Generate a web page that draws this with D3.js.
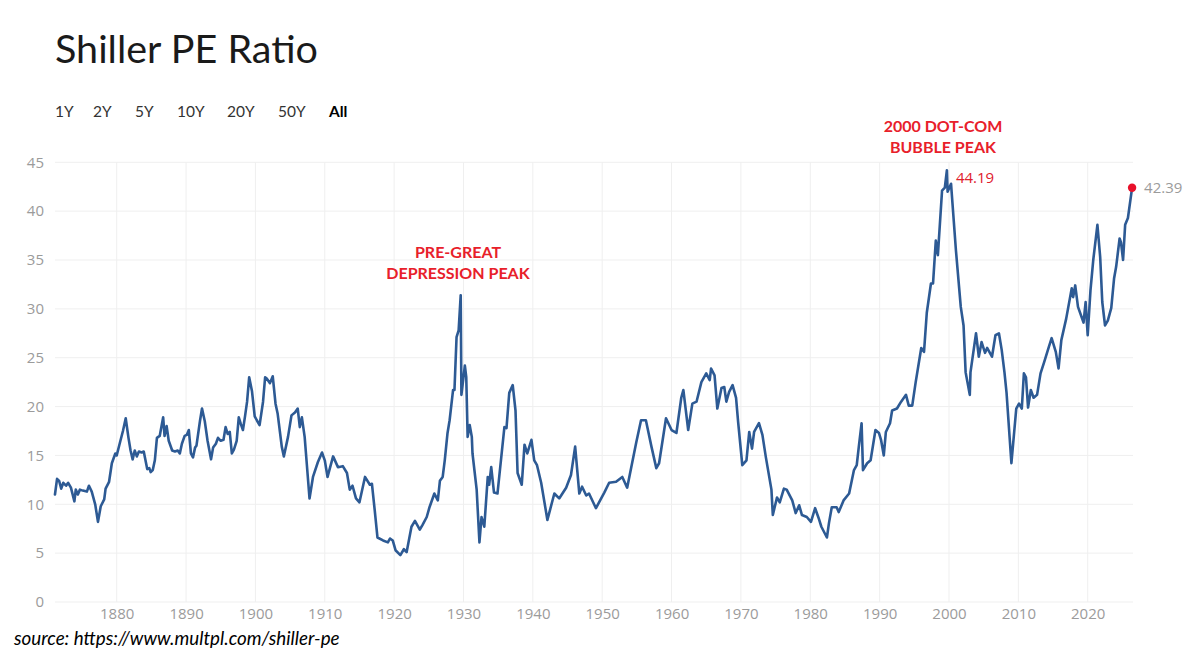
<!DOCTYPE html>
<html><head><meta charset="utf-8">
<script src="https://cdn.jsdelivr.net/npm/d3@7"></script>
<style>body{margin:0;background:#fff;} svg{display:block;}</style>
</head><body>
<svg id="chart" width="1200" height="654"></svg>
<script>
// ---- data ----
const years = [
1871.1,1871.4,1871.7,1872.0,1872.3,1872.7,1873.0,1873.4,1873.9,1874.1,1874.4,1874.7,1875.1,1875.7,1876.0,1876.4,1876.9,1877.3,1877.7,1878.2,1878.4,1878.9,1879.3,1879.8,
1880.0,1880.5,1880.9,1881.3,1881.7,1882.0,1882.3,1882.6,1882.9,1883.2,1883.6,1883.9,1884.4,1884.7,1884.9,1885.2,1885.5,1885.8,1886.2,1886.7,1886.9,1887.2,1887.5,1888.0,1888.4,1888.8,1889.1,1889.4,1889.8,
1890.1,1890.4,1890.7,1891.0,1891.3,1891.5,1892.0,1892.3,1892.7,1893.1,1893.6,1893.9,1894.3,1894.6,1895.0,1895.4,1895.7,1896.0,1896.3,1896.6,1896.9,1897.3,1897.6,1897.9,1898.2,1898.5,1898.8,1899.1,1899.5,1899.9,
1900.2,1900.6,1901.1,1901.4,1901.6,1902.1,1902.5,1902.9,1903.2,1903.8,1904.1,1904.7,1905.2,1905.7,1906.1,1906.4,1906.7,1907.1,1907.4,1907.8,1908.3,1909.0,1909.6,
1910.0,1910.4,1911.2,1911.9,1912.6,1913.2,1913.6,1914.0,1914.5,1915.0,1915.8,1916.5,1916.8,1917.2,1917.6,1918.4,1919.1,1919.4,1919.8,
1920.2,1920.9,1921.4,1921.8,1922.5,1923.0,1923.7,1924.1,1924.7,1925.1,1925.8,1926.3,1926.6,1927.0,1927.3,1927.7,1928.0,1928.5,1928.7,1929.0,1929.3,1929.6,1929.7,
1930.2,1930.4,1930.6,1930.9,1931.2,1931.3,1931.9,1932.3,1932.6,1933.0,1933.5,1933.7,1934.0,1934.4,1934.9,1935.9,1936.2,1936.6,1937.1,1937.5,1937.8,1938.4,1938.8,1939.2,1939.8,
1940.2,1940.6,1941.2,1942.1,1943.1,1943.8,1944.8,1945.5,1946.1,1946.7,1947.1,1947.7,1948.1,1949.1,
1950.3,1951.0,1952.0,1952.9,1953.6,1954.9,1955.6,1956.3,1957.1,1957.8,1958.2,1959.2,
1960.0,1960.7,1961.4,1961.7,1962.4,1963.0,1963.6,1964.3,1965.0,1965.5,1965.7,1966.2,1966.6,1967.2,1967.6,1967.9,1968.3,1968.8,1969.3,1969.6,
1970.2,1970.8,1971.2,1971.6,1971.9,1972.6,1973.1,1973.6,1974.4,1974.6,1975.2,1975.6,1976.2,1976.6,1977.4,1977.9,1978.4,1978.8,1979.5,
1980.1,1980.7,1981.2,1981.6,1982.4,1982.7,1983.1,1983.8,1984.1,1984.8,1985.6,1986.3,1986.7,1987.0,1987.4,1987.6,1988.2,1988.7,1989.4,1989.9,
1990.2,1990.6,1990.9,1991.5,1991.8,1992.5,1993.1,1993.8,1994.2,1994.7,1995.2,1996.0,1996.4,1996.8,1997.4,1997.7,1998.1,1998.4,1999.0,1999.4,1999.7,1999.8,
2000.3,2000.4,2001.0,2001.7,2002.1,2002.4,2003.0,2003.1,2003.9,2004.3,2004.7,2005.2,2005.5,2006.2,2006.7,2007.2,2007.6,2008.0,2008.3,2009.0,2009.7,
2010.1,2010.5,2010.8,2011.1,2011.4,2011.8,2012.2,2012.7,2013.2,2013.7,2014.4,2014.8,2015.4,2015.8,2016.2,2016.9,2017.7,2017.9,2018.2,2018.6,2019.4,2019.7,
2020.0,2020.4,2020.8,2021.4,2021.8,2022.1,2022.5,2022.9,2023.4,2023.8,2024.1,2024.6,2024.8,2025.1,2025.4,2025.8,2026.4
];
const pe = [
11.0,12.6,12.4,11.6,12.2,11.9,12.2,11.7,10.3,11.5,11.0,11.5,11.4,11.3,11.9,11.3,10.0,8.2,9.8,10.5,11.6,12.3,14.2,15.2,
15.0,16.4,17.5,18.8,16.8,15.5,14.6,15.5,14.9,15.4,15.3,15.4,13.6,13.7,13.3,13.5,14.5,16.8,17.0,18.9,17.0,18.0,16.5,15.5,15.4,15.5,15.2,16.2,17.0,
17.1,17.6,15.2,14.8,15.8,16.0,18.5,19.8,18.5,16.5,14.6,15.8,16.2,16.8,16.5,16.6,17.9,17.2,17.4,15.2,15.6,16.5,18.9,18.2,17.6,19.0,20.5,23.0,21.6,19.0,
18.6,18.1,20.5,23.0,22.9,22.4,23.1,20.3,19.3,15.9,14.9,16.9,19.1,19.4,19.8,17.9,18.9,16.9,14.2,10.6,12.8,14.3,15.3,
14.5,12.8,14.9,13.8,13.9,13.2,11.5,11.9,10.6,10.2,12.8,12.0,12.1,9.4,6.6,6.3,6.1,6.5,6.3,
5.3,4.8,5.4,5.1,7.7,8.3,7.4,7.9,8.7,9.7,11.1,10.4,12.4,12.8,14.5,17.3,18.6,21.7,21.7,27.1,27.8,31.4,21.2,
24.2,23.0,16.9,18.1,16.9,15.2,11.5,6.1,8.7,7.7,12.8,12.0,13.8,11.2,11.1,17.9,17.8,21.4,22.2,19.6,13.2,12.0,16.1,15.2,16.6,
14.5,14.0,12.2,8.4,11.1,10.6,11.7,13.0,15.9,11.1,11.8,10.9,11.1,9.6,
11.2,12.2,12.3,12.8,11.7,16.3,18.6,18.6,15.9,13.7,14.2,18.8,
17.6,17.3,20.9,21.7,17.6,20.3,20.5,22.5,23.4,22.7,23.9,23.2,19.8,21.9,22.0,20.5,21.5,22.2,20.9,18.4,
14.0,14.5,17.4,15.7,17.4,18.3,17.1,14.8,11.5,8.9,10.7,10.2,11.6,11.5,10.4,9.1,9.9,8.9,8.7,
8.2,9.6,8.6,7.7,6.6,8.1,9.7,9.7,9.2,10.4,11.1,13.5,14.0,15.9,18.3,13.5,14.2,14.5,17.6,17.3,
16.6,15.0,17.4,18.3,19.6,19.8,20.5,21.2,20.1,20.1,22.5,26.0,25.6,29.6,32.6,32.6,37.0,35.5,42.1,42.4,44.19,42.0,
42.8,41.8,36.0,30.2,28.3,23.5,21.2,23.5,27.5,25.1,26.6,25.5,26.0,25.1,27.3,27.5,25.8,23.5,21.4,14.2,19.8,
20.3,19.8,23.4,23.0,19.9,21.7,20.9,21.2,23.4,24.5,26.1,27.0,25.6,23.9,26.8,29.0,32.1,31.2,32.4,30.2,28.6,30.7,
27.3,31.9,35.0,38.6,35.3,30.7,28.3,28.8,30.1,33.1,34.3,37.2,36.8,35.0,38.6,39.3,42.39
];
const yTicks = [0,5,10,15,20,25,30,35,40,45];
const xTicks = [1880,1890,1900,1910,1920,1930,1940,1950,1960,1970,1980,1990,2000,2010,2020];
const rangeButtons = ["1Y","2Y","5Y","10Y","20Y","50Y","All"];
const annGreat = ["PRE-GREAT","DEPRESSION PEAK"];
const annDotcom = ["2000 DOT-COM","BUBBLE PEAK"];
const peakLabel = "44.19";
const lastLabel = "42.39";

// ---- drawing ----
const svg = d3.select("#chart");
const x = d3.scaleLinear().domain([1880, 2020]).range([116.7, 1087.7]);
const y = d3.scaleLinear().domain([0, 45]).range([602, 162.3]);
const left = 55, right = 1133;

// title
svg.append("text").attr("x", 55).attr("y", 63)
  .attr("font-family", "Lato, 'Open Sans', sans-serif").attr("font-size", 39.5)
  .attr("fill", "#1a1a1a").text("Shiller PE Ratio");

// range buttons
const btnX = [55, 93, 135, 177, 227, 278, 329];
svg.append("g").selectAll("text").data(rangeButtons).join("text")
  .attr("x", (d, i) => btnX[i]).attr("y", 117)
  .attr("font-family", "Lato, 'Open Sans', sans-serif").attr("font-size", 15.5)
  .attr("font-weight", d => d === "All" ? 700 : 400)
  .attr("fill", d => d === "All" ? "#000" : "#333").text(d => d);

// gridlines
const grid = svg.append("g");
grid.selectAll("line.h").data(yTicks).join("line").attr("class", "h")
  .attr("x1", left).attr("x2", right).attr("y1", d => y(d)).attr("y2", d => y(d))
  .attr("stroke", "#efefef").attr("stroke-width", 1);
grid.selectAll("line.v").data(xTicks).join("line").attr("class", "v")
  .attr("x1", d => x(d)).attr("x2", d => x(d)).attr("y1", y(45)).attr("y2", y(0))
  .attr("stroke", "#efefef").attr("stroke-width", 1);

// y axis labels
const yAxis = d3.axisLeft(y).tickValues(yTicks).tickSize(0).tickPadding(0);
const yg = svg.append("g").attr("transform", "translate(44,0)").call(yAxis);
yg.select(".domain").remove();
yg.selectAll("text").attr("font-family", "'Open Sans', sans-serif").attr("font-size", 15)
  .attr("fill", "#9b9b9b");

// x axis labels
const xAxis = d3.axisBottom(x).tickValues(xTicks).tickSize(0).tickPadding(0).tickFormat(d3.format("d"));
const xg = svg.append("g").attr("transform", "translate(0,608)").call(xAxis);
xg.select(".domain").remove();
xg.selectAll("text").attr("font-family", "'Open Sans', sans-serif").attr("font-size", 15)
  .attr("fill", "#9b9b9b");

// line
const data = years.map((yr, i) => ({yr, v: pe[i]}));
const line = d3.line().x(d => x(d.yr)).y(d => y(d.v));
svg.append("path").datum(data).attr("d", line)
  .attr("fill", "none").attr("stroke", "#2d5a94").attr("stroke-width", 2.6)
  .attr("stroke-linejoin", "round").attr("stroke-linecap", "round");

// last point dot and label
const last = data[data.length - 1];
svg.append("circle").attr("cx", x(last.yr)).attr("cy", y(last.v)).attr("r", 4.2).attr("fill", "#e8102a");
svg.append("text").attr("x", x(last.yr) + 12).attr("y", y(last.v) + 5)
  .attr("font-family", "'Open Sans', sans-serif").attr("font-size", 15)
  .attr("fill", "#9b9b9b").text(lastLabel);

// peak label
const peak = data.reduce((a, b) => b.v > a.v ? b : a);
svg.append("text").attr("x", x(peak.yr) + 9).attr("y", y(peak.v) + 13)
  .attr("font-family", "'Open Sans', sans-serif").attr("font-size", 15)
  .attr("fill", "#e0202c").text(peakLabel);

// annotations
function ann(lines, cx, y0) {
  svg.append("g").selectAll("text").data(lines).join("text")
    .attr("x", cx).attr("y", (d, i) => y0 + i * 21).attr("text-anchor", "middle")
    .attr("font-family", "Lato, 'Open Sans', sans-serif").attr("font-weight", 700)
    .attr("font-size", 16).attr("fill", "#e8202a").text(d => d);
}
ann(annGreat, 458, 258);
ann(annDotcom, 943, 132);

// source
svg.append("text").attr("x", 14).attr("y", 645)
  .attr("font-family", "Lato, sans-serif").attr("font-style", "italic").attr("font-size", 18.8)
  .attr("fill", "#000").text("source: https://www.multpl.com/shiller-pe");
</script>
</body></html>
